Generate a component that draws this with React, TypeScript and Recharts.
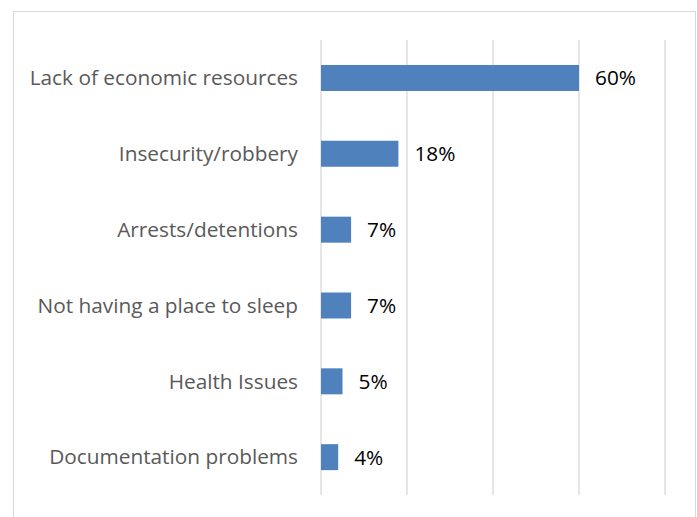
import { Bar, BarChart, CartesianGrid, LabelList, XAxis, YAxis } from "recharts";

const categories = [
  "Lack of economic resources",
  "Insecurity/robbery",
  "Arrests/detentions",
  "Not having a place to sleep",
  "Health Issues",
  "Documentation problems",
];
const shares = [60, 18, 7, 7, 5, 4];
const xTicks = [0, 20, 40, 60, 80];

const data = categories.map((name, i) => ({ name, value: shares[i] }));

const font = "'Open Sans', sans-serif";

export default function App() {
  return (
    <div style={{ position: "absolute", left: 0, top: 0, width: 697, height: 517, background: "#fff", overflow: "hidden" }}>
      <div
        style={{
          position: "absolute",
          left: 13,
          top: 11,
          width: 681,
          height: 520,
          border: "1px solid #d9d9d9",
        }}
      />
      <div style={{ position: "absolute", left: 0, top: 0 }}>
        <BarChart
          width={697}
          height={517}
          data={data}
          layout="vertical"
          barSize={26}
          margin={{ top: 40, right: 32, bottom: 22, left: 0 }}
        >
          <CartesianGrid horizontal={false} stroke="#d9d9d9" strokeWidth={1.3} />
          <XAxis type="number" domain={[0, 80]} ticks={xTicks} hide />
          <YAxis
            type="category"
            dataKey="name"
            width={321}
            axisLine={false}
            tickLine={false}
            tickSize={0}
            tickMargin={23}
            tick={{ fill: "#595959", fontSize: 20.8, fontFamily: font }}
          />
          <Bar dataKey="value" fill="#4f81bd" isAnimationActive={false}>
            <LabelList
              dataKey="value"
              position="right"
              offset={16}
              formatter={(v: number) => `${v}%`}
              style={{ fill: "#000", fontSize: 20.8, fontFamily: font }}
            />
          </Bar>
        </BarChart>
      </div>
    </div>
  );
}
